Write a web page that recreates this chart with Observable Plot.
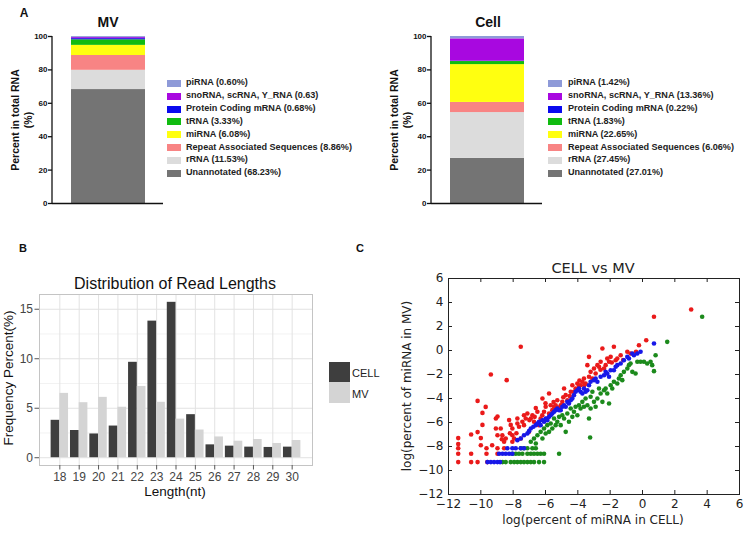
<!DOCTYPE html>
<html><head><meta charset="utf-8">
<script src="https://cdn.jsdelivr.net/npm/d3@7"></script>
<script src="https://cdn.jsdelivr.net/npm/@observablehq/plot@0.6"></script>
<style>
body{margin:0;background:#fff;}
#root{position:relative;width:750px;height:536px;overflow:hidden;background:#fff;font-family:"Liberation Sans",Arial,sans-serif;}
.wrap{position:absolute;}
.wrap svg{display:block;max-width:none;}
</style></head><body><div id="root"></div>
<script>
// ---------- Panel A data ----------
const rnaTypes = ["Unannotated","rRNA","Repeat Associated Sequences","miRNA","tRNA","Protein Coding mRNA","snoRNA, scRNA, Y_RNA","piRNA"];
const rnaColors = ["#747474","#dcdcdc","#f88484","#ffff10","#10bb10","#0a0aee","#a808e0","#8e9ad8"];
const mvPercent = [68.23, 11.53, 8.86, 6.08, 3.33, 0.68, 0.63, 0.60];
const cellPercent = [27.01, 27.45, 6.06, 22.65, 1.83, 0.22, 13.36, 1.42];
const mvLegend = ["piRNA (0.60%)","snoRNA, scRNA, Y_RNA (0.63)","Protein Coding mRNA (0.68%)","tRNA (3.33%)","miRNA (6.08%)","Repeat Associated Sequences (8.86%)","rRNA (11.53%)","Unannotated (68.23%)"];
const cellLegend = ["piRNA (1.42%)","snoRNA, scRNA, Y_RNA (13.36%)","Protein Coding mRNA (0.22%)","tRNA (1.83%)","miRNA (22.65%)","Repeat Associated Sequences (6.06%)","rRNA (27.45%)","Unannotated (27.01%)"];
const yTicksA = [0,20,40,60,80,100];

// ---------- Panel B data ----------
const readLengths = [18,19,20,21,22,23,24,25,26,27,28,29,30];
const cellFreq = [3.78,2.75,2.4,3.2,9.64,13.8,15.7,4.35,1.3,1.17,1.07,1.04,1.07];
const mvFreq   = [6.5,5.56,6.1,5.1,7.2,5.6,3.9,2.8,2.1,1.67,1.84,1.44,1.74];
const seriesB = ["CELL","MV"];
const seriesBColors = ["#3e3e3e","#d4d4d4"];
const yTicksB = [0,5,10,15];

// ---------- Panel C data ----------
const axisTicksC = [-12,-10,-8,-6,-4,-2,0,2,4,6];
const redPoints = [
[-11.4,-7.3],[-11.4,-7.8],[-11.4,-8.15],[-11.4,-8.6],[-11.4,-9.3],
[-10.6,-7.0],[-10.6,-8.6],[-10.6,-9.3],
[-10.2,-4.2],[-10.2,-6.8],[-10.2,-9.3],
[-10.0,-7.3],[-10.0,-7.9],
[-9.9,-5.2],[-9.9,-6.2],
[-9.65,-8.15],[-9.65,-8.6],[-9.7,-4.7],[-9.6,-9.3],
[-9.38,-2.0],
[-9.07,-5.67],[-9.07,-6.5],[-8.97,-7.06],[-8.97,-8.15],[-8.97,-8.6],[-8.97,-5.5],
[-8.4,-2.47],
[-8.77,-6.5],[-8.67,-7.06],[-8.56,-8.15],[-8.56,-7.6],[-8.46,-7.33],
[-8.25,-5.8],[-8.15,-6.2],[-8.05,-6.5],[-8.05,-7.06],[-8.05,-7.6],[-7.94,-7.33],
[-7.74,-5.67],[-7.74,-6.08],[-7.64,-6.36],[-7.53,0.31],[-7.53,-7.33],[-7.43,-5.94],
[-7.33,-5.39],[-7.33,-6.22],[-7.22,-5.67],[-7.12,-5.25],[-7.02,-6.78],[-6.91,-5.67],
[-6.81,-5.39],[-6.71,-5.94],[-6.67,-5.53],[-6.5,-5.11],[-6.4,-6.22],[-6.3,-5.67],
[-6.19,-4.0],[-6.09,-5.11],[-5.99,-4.69],[-5.89,-5.67],[-5.78,-5.25],[-5.78,-3.58],
[-5.68,-4.56],[-5.58,-4.97],[-5.47,-4.69],[-5.37,-4.56],[-5.27,-4.14],[-5.16,-4.78],
[-5.06,-4.56],[-4.96,-4.28],[-4.85,-3.17],[-4.75,-3.72],[-4.65,-4.14],[-4.44,-3.44],
[-4.34,-2.89],[-4.24,-3.44],[-4.14,-3.17],[-4.03,-2.75],[-3.93,-2.95],[-3.83,-2.89],
[-3.72,-2.61],[-3.62,-2.33],[-3.52,-2.75],[-3.41,-1.22],[-3.31,-0.53],[-3.31,-2.19],
[-3.21,-1.78],[-3.1,-2.33],[-3.0,-1.5],[-2.9,-1.92],[-2.79,-1.22],[-2.69,-1.36],
[-2.59,-0.94],[-2.48,0.17],[-2.38,-1.5],[-2.28,-1.22],[-2.18,-0.67],[-2.07,-0.94],
[-1.97,-0.53],[-1.77,0.31],[-1.66,-0.81],[-1.56,-0.67],[-1.35,-0.39],[-0.94,-0.11],
[-0.74,-0.25],[-0.22,0.44],[0.23,0.86],[0.71,2.81],[3.01,3.42],
[-9.3,-7.9],[-8.7,-7.4],[-8.2,-6.9],[-7.8,-6.9],[-7.0,-5.8],[-6.6,-4.8],[-6.2,-5.4],
[-6.0,-4.4],[-5.5,-4.3],[-4.9,-3.9],[-4.5,-3.8],[-3.9,-2.5],[-3.6,-2.9],[-2.6,-1.6],
[-1.9,-1.0],[-1.2,-0.8],[-0.4,-0.1]
];
const bluePoints = [
[-9.59,-9.3],[-9.38,-9.3],[-9.18,-9.3],[-8.97,-9.3],[-8.81,-9.3],
[-8.87,-8.6],[-8.66,-8.6],[-8.46,-8.6],[-8.25,-8.6],[-8.05,-8.6],
[-8.36,-8.15],[-8.05,-8.15],[-7.84,-8.15],[-7.53,-8.15],[-7.33,-8.15],
[-7.74,-7.47],[-7.53,-7.33],[-7.33,-7.06],[-7.12,-6.92],[-7.02,-6.72],[-6.91,-6.5],
[-6.75,-6.36],[-6.6,-6.22],[-6.5,-6.08],[-6.4,-5.94],[-6.3,-6.22],[-6.19,-5.81],
[-6.09,-5.94],[-5.99,-5.67],[-5.89,-5.81],[-5.78,-5.53],[-5.68,-5.39],[-5.58,-5.25],
[-5.47,-5.11],[-5.37,-4.97],[-5.27,-4.83],[-5.16,-4.97],[-5.06,-4.97],[-4.96,-4.69],
[-4.85,-4.56],[-4.75,-4.69],[-4.65,-4.28],[-4.55,-4.42],[-4.44,-4.14],[-4.34,-4.0],
[-4.24,-3.72],[-4.14,-3.44],[-4.03,-3.31],[-3.93,-3.17],[-3.83,-3.44],[-3.72,-3.58],
[-3.62,-3.17],[-3.52,-3.44],[-3.41,-3.31],[-3.31,-2.89],[-3.21,-2.61],[-3.0,-2.47],
[-2.9,-2.33],[-2.79,-2.61],[-2.59,-2.19],[-2.38,-2.06],[-2.28,-1.78],[-2.18,-1.92],
[-2.07,-2.19],[-1.97,-1.64],[-1.77,-1.64],[-1.66,-1.36],[-1.56,-1.22],[-1.35,-1.08],
[-1.15,-0.81],[-0.94,-0.53],[-0.84,-0.67],[-0.63,-0.25],[-0.53,-0.39],[-0.32,-0.25],
[-0.12,-0.11],[0.71,0.58]
];
const greenPoints = [
[-8.66,-9.3],[-8.46,-9.3],[-8.15,-9.3],[-7.94,-9.3],[-7.74,-9.3],[-7.53,-9.3],[-7.33,-9.3],
[-7.12,-9.3],[-6.91,-9.3],[-6.71,-9.3],[-6.4,-9.3],[-6.09,-9.3],
[-8.05,-8.6],[-7.84,-8.6],[-7.64,-8.6],[-7.43,-8.6],[-7.12,-8.6],[-6.91,-8.6],[-6.71,-8.6],
[-6.5,-8.6],[-6.3,-8.6],[-6.09,-8.6],
[-7.53,-8.15],[-7.33,-8.15],[-7.12,-8.15],[-6.81,-8.15],[-6.6,-8.15],
[-6.91,-7.61],[-6.71,-7.33],[-6.6,-7.75],[-6.5,-7.06],[-6.3,-6.78],[-6.19,-7.33],
[-6.09,-6.5],[-5.99,-6.92],[-5.89,-6.22],[-5.78,-6.78],[-5.68,-6.08],[-5.58,-6.5],
[-5.47,-5.67],[-5.37,-6.22],[-5.27,-5.94],[-5.16,-5.53],[-5.16,-8.6],[-5.06,-6.22],
[-4.96,-5.39],[-4.85,-5.67],[-4.75,-6.78],[-4.65,-5.25],[-4.55,-5.94],[-4.44,-4.83],
[-4.34,-5.53],[-4.24,-5.11],[-4.14,-4.69],[-4.03,-5.39],[-3.93,-4.56],[-3.83,-4.83],
[-3.72,-4.28],[-3.62,-4.69],[-3.52,-4.0],[-3.41,-4.56],[-3.31,-5.67],[-3.24,-7.25],
[-3.21,-3.86],[-3.21,-4.83],[-3.1,-3.44],[-3.0,-4.28],[-2.9,-4.69],[-2.79,-4.0],
[-2.69,-3.17],[-2.59,-3.58],[-2.48,-4.28],[-2.38,-3.31],[-2.28,-3.17],[-2.18,-3.58],
[-2.07,-4.42],[-1.97,-2.89],[-1.87,-3.17],[-1.77,-2.61],[-1.56,-2.75],[-1.46,-2.33],
[-1.35,-2.06],[-1.25,-2.47],[-1.15,-1.78],[-0.94,-1.5],[-0.84,-1.22],[-0.74,-1.08],
[-0.63,-1.78],[-0.43,-1.92],[-0.32,-0.94],[-0.12,-0.94],[0.09,-0.94],[0.29,-1.08],
[0.5,-0.94],[0.6,-1.22],[0.71,-1.72],[0.81,-0.39],[1.53,0.72],[3.69,2.81]
];

// ---------- helpers ----------
const root = document.getElementById("root");
function place(node, left, top, w) {
  const d = document.createElement("div");
  d.className = "wrap";
  d.style.left = left + "px"; d.style.top = top + "px"; d.style.width = w + "px";
  d.appendChild(node); root.appendChild(d);
}
function label(text, x, y, css, rotate) {
  const d = document.createElement("div");
  d.textContent = text;
  d.style.cssText = `position:absolute;left:${x}px;top:${y}px;white-space:nowrap;line-height:1;transform:translate(-50%,-50%)${rotate ? ` rotate(${rotate}deg)` : ""};` + css;
  root.appendChild(d);
}
function leftLabel(text, x, y, css) {
  const d = document.createElement("div");
  d.textContent = text;
  d.style.cssText = `position:absolute;left:${x}px;top:${y}px;white-space:nowrap;line-height:1;transform:translateY(-50%);` + css;
  root.appendChild(d);
}
function swatch(x, y, w, h, color) {
  const d = document.createElement("div");
  d.style.cssText = `position:absolute;left:${x}px;top:${y - h/2}px;width:${w}px;height:${h}px;background:${color};`;
  root.appendChild(d);
}

// ---------- Panel A ----------
function stackPlot(sample, values) {
  const data = rnaTypes.map((t, i) => ({sample, type: t, value: values[i]}));
  const chart = Plot.plot({
    width: 175, height: 190,
    marginLeft: 52, marginRight: 12, marginTop: 16, marginBottom: 7,
    x: {domain: [sample], padding: 0.2, axis: null},
    y: {domain: [0, 100]},
    color: {domain: rnaTypes, range: rnaColors},
    style: {background: "transparent", fontFamily: "'Liberation Sans', Arial, sans-serif", fontSize: "8px", fontWeight: "bold", color: "#111"},
    marks: [
      Plot.barY(data, {x: "sample", y: "value", fill: "type"}),
      Plot.ruleY([0], {stroke: "#111", strokeWidth: 1.3}),
      Plot.axisY({ticks: yTicksA, tickSize: 4, tickPadding: 1, label: null, strokeWidth: 1.3})
    ]
  });
  const ys = chart.scale("y");
  d3.select(chart).append("line")
    .attr("x1", 52).attr("x2", 52)
    .attr("y1", ys.range[0] + 0.6).attr("y2", ys.range[1])
    .attr("stroke", "#111").attr("stroke-width", 1.3);
  return chart;
}
place(stackPlot("MV", mvPercent), 0, 20, 175);
place(stackPlot("Cell", cellPercent), 379, 20, 175);

label("A", 24, 13, "font-weight:bold;font-size:12px;color:#111;");
label("MV", 108, 22, "font-weight:bold;font-size:14px;color:#111;");
label("Cell", 488, 22, "font-weight:bold;font-size:14px;color:#111;");
for (const [x0, x1] of [[15, 28], [394, 407]]) {
  label("Percent in total RNA", x0, 120, "font-weight:bold;font-size:10.5px;color:#111;", -90);
  label("(%)", x1, 120, "font-weight:bold;font-size:10.5px;color:#111;", -90);
}
const legendColors = rnaColors.slice().reverse();
function legendA(labels, sx, tx) {
  labels.forEach((t, i) => {
    const y = 83.3 + i * 12.86;
    swatch(sx, y, 14, 7, legendColors[i]);
    leftLabel(t, tx, y, "font-weight:bold;font-size:9.1px;color:#222;");
  });
}
legendA(mvLegend, 167, 186);
legendA(cellLegend, 548, 568);

// ---------- Panel B ----------
const readData = readLengths.flatMap((L, i) => [
  {len: L, series: "CELL", value: cellFreq[i]},
  {len: L, series: "MV", value: mvFreq[i]}
]);
const chartB = Plot.plot({
  width: 330, height: 212,
  marginLeft: 39, marginRight: 18, marginTop: 6, marginBottom: 35,
  x: {domain: [16.95, 31.05]},
  y: {domain: [-0.785, 16.49]},
  color: {domain: seriesB, range: seriesBColors},
  style: {background: "transparent", fontFamily: "'Liberation Sans', Arial, sans-serif", fontSize: "12px", color: "#444"},
  marks: [
    Plot.ruleY([2.5, 7.5, 12.5], {stroke: "#f2f2f2"}),
    Plot.ruleY(yTicksB, {stroke: "#e2e2e2"}),
    Plot.ruleX(readLengths, {stroke: "#e2e2e2"}),
    Plot.rectY(readData, {
      x1: d => d.series === "CELL" ? d.len - 0.45 : d.len,
      x2: d => d.series === "CELL" ? d.len : d.len + 0.45,
      y1: 0, y2: "value", fill: "series"
    }),
    Plot.frame({stroke: "#c4c4c4"}),
    Plot.axisX({ticks: readLengths, tickSize: 4.5, tickPadding: 2, tickFormat: d => String(d), label: null, stroke: "#555"}),
    Plot.axisY({ticks: yTicksB, tickSize: 4.5, tickPadding: 2, label: null, stroke: "#555"})
  ]
});
place(chartB, 0, 288, 330);
label("B", 23, 248, "font-weight:bold;font-size:11px;color:#111;");
label("Distribution of Read Lengths", 175, 284, "font-size:16px;color:#111;");
label("Length(nt)", 175, 492, "font-size:13.5px;color:#111;");
label("Frequency Percent(%)", 9, 378, "font-size:13.5px;color:#111;", -90);
seriesB.forEach((s, i) => {
  swatch(329, 372 + i * 20.5, 21, 20.5, seriesBColors[i]);
  leftLabel(s, 352, 373 + i * 20.5, "font-size:11px;color:#222;");
});

// ---------- Panel C ----------
const fmtMinus = d => d < 0 ? "\u2212" + Math.abs(d) : String(d);
const toObj = p => ({x: p[0], y: p[1]});
const frameW = 370 - 68 - 11, frameH = 281 - 23 - 42;
const chartC = Plot.plot({
  width: 370, height: 281,
  marginLeft: 68, marginRight: 11, marginTop: 23, marginBottom: 42,
  x: {domain: [-12, 6]},
  y: {domain: [-12, 6]},
  style: {background: "transparent", fontFamily: "'DejaVu Sans', sans-serif", fontSize: "12px", color: "#222"},
  marks: [
    Plot.dot(redPoints.map(toObj), {x: "x", y: "y", r: 2.3, fill: "#ea1a1a", stroke: null}),
    Plot.dot(greenPoints.map(toObj), {x: "x", y: "y", r: 2.3, fill: "#1c8a1c", stroke: null}),
    Plot.dot(bluePoints.map(toObj), {x: "x", y: "y", r: 2.3, fill: "#1818e8", stroke: null}),
    Plot.ruleX(axisTicksC, {x: d => d, insetTop: frameH - 4, stroke: "#222"}),
    Plot.ruleX(axisTicksC, {x: d => d, insetBottom: frameH - 4, stroke: "#222"}),
    Plot.ruleY(axisTicksC, {y: d => d, insetRight: frameW - 4, stroke: "#222"}),
    Plot.ruleY(axisTicksC, {y: d => d, insetLeft: frameW - 4, stroke: "#222"}),
    Plot.frame({stroke: "#222"}),
    Plot.axisX({ticks: axisTicksC, tickSize: 0, tickPadding: 5, tickFormat: fmtMinus, label: null}),
    Plot.axisY({ticks: axisTicksC, tickSize: 0, tickPadding: 5, tickFormat: fmtMinus, label: null})
  ]
});
place(chartC, 380, 255, 370);
label("C", 360, 248, "font-weight:bold;font-size:11px;color:#111;");
label("CELL vs MV", 593, 268, "font-family:'DejaVu Sans',sans-serif;font-size:14.5px;color:#222;");
label("log(percent of miRNA in CELL)", 593, 520, "font-family:'DejaVu Sans',sans-serif;font-size:12px;color:#222;");
label("log(percent of miRNA in MV)", 407, 386, "font-family:'DejaVu Sans',sans-serif;font-size:12px;color:#222;", -90);
</script></body></html>
